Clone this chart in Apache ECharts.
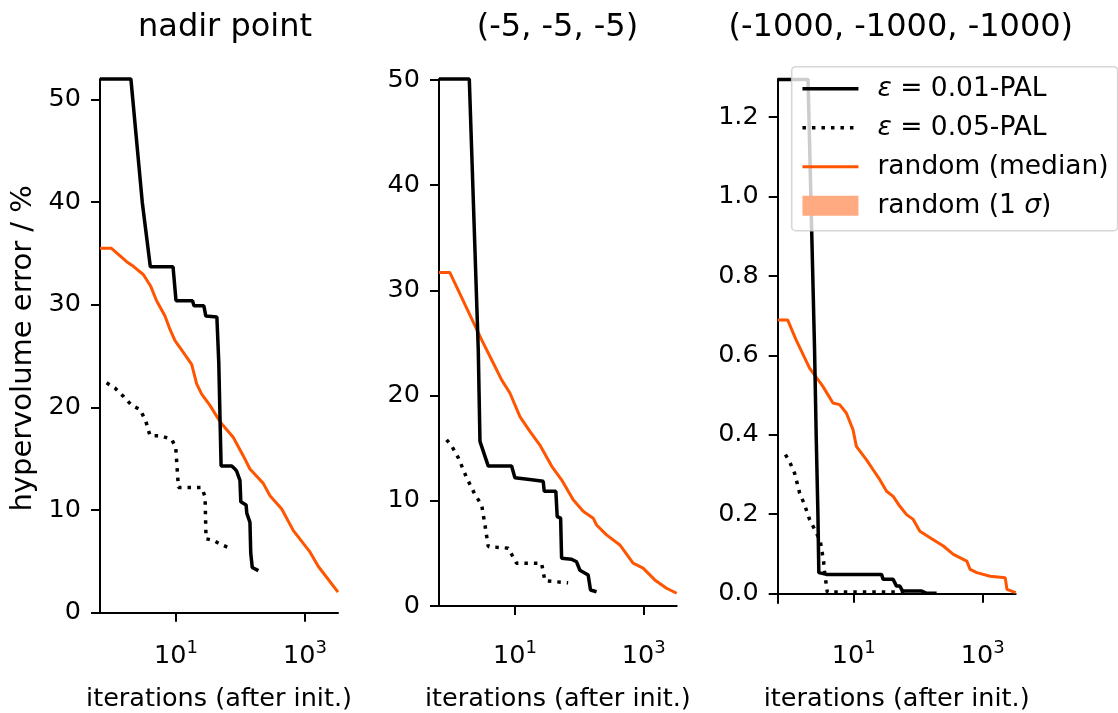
<!DOCTYPE html>
<html><head><meta charset="utf-8">
<script src="https://cdn.jsdelivr.net/npm/echarts@6/dist/echarts.min.js"></script>
<style>html,body{margin:0;padding:0;background:#fff}#c{width:1118px;height:713px}</style>
</head><body><div id="c"></div>
<script>
// ---- data (x = iterations after init., y = hypervolume error) ----
const panelTitles = ['nadir point', '(-5, -5, -5)', '(-1000, -1000, -1000)'];
const xTicks = [10, 1000];
const yTicksA = [0, 10, 20, 30, 40, 50];
const yTicksB = [0, 10, 20, 30, 40, 50];
const yTicksC = [0, 0.2, 0.4, 0.6, 0.8, 1.0, 1.2];
const xRange = [0.664, 3240];
const yRangeA = [0, 52.0];
const yRangeB = [0, 50.1];
const yRangeC = [-0.0235, 1.296];

const nadirPal01 = [[0.664,52.0],[2,52.0],[3,40],[4,33.7],[9,33.7],[10,30.4],[18,30.4],[19,29.9],[27,29.9],[29,28.9],[43,28.8],[45,28.8],[46,24.4],[49,24.4],[50,14.3],[73,14.3],[82,14.0],[87,13.8],[98,12.9],[101,10.8],[122,10.5],[125,9.7],[140,8.8],[144,5.8],[152,4.4],[189,4.1]];
const nadirPal05 = [[0.84,22.4],[1.13,21.9],[1.52,21.1],[2.06,20.2],[2.77,19.8],[3.39,18.7],[3.95,17.25],[5.65,17.25],[8.57,16.9],[9.9,16.1],[10.9,12.2],[25,12.2],[28.2,11.3],[29.2,7.2],[37.9,7.05],[48,6.7],[70.5,6.25],[73,6.1]];
const nadirRandom = [[0.664,35.5],[1.0,35.5],[1.72,34.2],[2.18,33.75],[3.11,32.95],[4.06,31.8],[5.0,30.4],[6.75,28.9],[8.07,27.6],[9.65,26.5],[12.2,25.6],[17.5,24.2],[20.9,22.3],[25,21.3],[33.6,20.2],[40.2,19.4],[51,18.4],[77,17.1],[110,15.3],[140,14.0],[225,12.6],[286,11.4],[435,10.1],[659,8.0],[1197,5.9],[1608,4.5],[3240,2.0]];

const m5Pal01 = [[0.664,50.1],[1.96,50.1],[2.7,24.4],[2.87,15.65],[3.86,13.3],[8.89,13.3],[10,12.2],[18.2,12.0],[27.5,11.85],[28.5,10.9],[43.2,10.9],[45.3,8.5],[51.2,8.35],[53,4.55],[75.7,4.45],[90.5,4.2],[102,3.4],[137,2.95],[149,1.52],[185,1.36]];
const m5Pal05 = [[0.87,15.8],[1.05,15.2],[1.32,14.1],[1.78,12.2],[2.4,10.6],[3.05,9.6],[3.43,7.7],[3.86,5.65],[7.87,5.5],[10.6,4.07],[25.9,4.07],[29.2,2.4],[67,2.2]];
const m5Random = [[0.664,31.7],[0.98,31.7],[3.05,25.3],[4.61,23.1],[6.22,21.5],[8.37,20.25],[11.96,18.0],[17.1,16.6],[24.4,15.3],[37.1,13.3],[53,12.0],[80.2,10.1],[114.6,9.0],[164,8.35],[185,7.7],[264,6.76],[425,5.8],[682,4.07],[975,3.6],[1482,2.48],[2250,1.69],[3240,1.21]];

const m1000Pal01 = [[0.664,1.295],[1.96,1.295],[2.47,0.62],[2.63,0.388],[2.79,0.20],[2.88,0.053],[3.76,0.0485],[27,0.0485],[28.6,0.036],[40.8,0.036],[46.1,0.019],[51.9,0.019],[57.2,0.0066],[113,0.0066],[135,0.001],[193,0.001]];
const m1000Pal05 = [[0.875,0.35],[1.01,0.333],[1.21,0.304],[1.45,0.254],[1.73,0.224],[2.07,0.187],[2.57,0.157],[3.04,0.132],[3.41,0.082],[3.54,0.053],[3.9,0.004],[70,0.004]];
const m1000Random = [[0.664,0.689],[0.95,0.689],[1.28,0.639],[2.07,0.568],[3.33,0.522],[4.77,0.48],[6.05,0.476],[7.69,0.455],[9.75,0.413],[11.0,0.371],[15.8,0.337],[20,0.312],[25.4,0.287],[32.3,0.258],[40.9,0.245],[51.9,0.22],[66,0.199],[83.6,0.187],[106,0.157],[171,0.136],[245,0.12],[350,0.099],[566,0.082],[637,0.061],[809,0.053],[1303,0.044],[2230,0.040],[2370,0.011],[3240,0.0025]];

const legendNames = ['ε = 0.01-PAL', 'ε = 0.05-PAL', 'random (median)', 'random (1 σ)'];

// ---- chart ----
const FONT = 'DejaVu Sans';
const ORANGE = '#ff5500';
const BAND = '#ffaa80';
const grids = [
  {left: 100, top: 79, width: 238, height: 533.7},
  {left: 439, top: 79, width: 237.7, height: 527},
  {left: 777.7, top: 79, width: 238, height: 524}
];
const xOffsets = [15.6, 22.3, 25.6];
const titleCenters = [220, 552.5, 895.8];
const yRanges = [yRangeA, yRangeB, yRangeC];
const yTicks = [yTicksA, yTicksB, yTicksC];
const panelData = [
  [nadirPal01, nadirPal05, nadirRandom],
  [m5Pal01, m5Pal05, m5Random],
  [m1000Pal01, m1000Pal05, m1000Random]
];

const xAxes = grids.map((g, i) => ({
  type: 'log', gridIndex: i, logBase: 10,
  min: xRange[0], max: xRange[1],
  offset: xOffsets[i],
  name: 'iterations (after init.)', nameLocation: 'middle', nameGap: 58,
  nameTextStyle: {fontFamily: FONT, fontSize: 25.5, color: '#000'},
  axisLine: {show: true, lineStyle: {color: '#000', width: 2}},
  axisTick: {show: true, length: 9, lineStyle: {color: '#000', width: 2}, customValues: xTicks},
  minorTick: {show: false},
  splitLine: {show: false},
  axisLabel: {
    customValues: xTicks, margin: 11,
    formatter: v => '{b|10}{s|' + Math.round(Math.log10(v)) + '}',
    rich: {
      b: {fontFamily: FONT, fontSize: 25.5, color: '#000', lineHeight: 30, verticalAlign: 'bottom'},
      s: {fontFamily: FONT, fontSize: 18, color: '#000', lineHeight: 18, verticalAlign: 'top'}
    }
  }
}));
const yAxes = grids.map((g, i) => ({
  type: 'value', gridIndex: i,
  min: yRanges[i][0], max: yRanges[i][1],
  name: i === 0 ? 'hypervolume error / %' : '',
  nameLocation: 'middle', nameRotate: 90, nameGap: 62,
  nameTextStyle: {fontFamily: FONT, fontSize: 29, color: '#000', padding: [0, 5, 0, 0]},
  axisLine: {show: true, lineStyle: {color: '#000', width: 2}},
  axisTick: {show: true, length: 9, lineStyle: {color: '#000', width: 2}, customValues: yTicks[i]},
  splitLine: {show: false},
  axisLabel: {
    customValues: yTicks[i], margin: 19,
    fontFamily: FONT, fontSize: 25.5, color: '#000',
    formatter: v => i === 2 ? Number(v).toFixed(1) : String(Math.round(v))
  }
}));

const series = [];
panelData.forEach((arr, i) => {
  series.push({
    name: legendNames[0], type: 'line', xAxisIndex: i, yAxisIndex: i,
    data: arr[0], showSymbol: false, symbol: 'none', clip: false, z: 3,
    color: '#000', lineStyle: {color: '#000', width: 3.5}
  });
  series.push({
    name: legendNames[1], type: 'line', xAxisIndex: i, yAxisIndex: i,
    data: arr[1], showSymbol: false, symbol: 'none', clip: false, z: 3,
    color: '#000', lineStyle: {color: '#000', width: 3.5, type: [3.5, 6], cap: 'butt'}
  });
  series.push({
    name: legendNames[2], type: 'line', xAxisIndex: i, yAxisIndex: i,
    data: arr[2], showSymbol: false, symbol: 'none', clip: false, z: 2,
    color: ORANGE, lineStyle: {color: ORANGE, width: 3}
  });
});
series.push({
  name: legendNames[3], type: 'line', xAxisIndex: 2, yAxisIndex: 2,
  data: [], showSymbol: false, symbol: 'none', color: BAND,
  itemStyle: {color: BAND}, lineStyle: {color: BAND}
});

const option = {
  animation: false,
  backgroundColor: '#fff',
  title: panelTitles.map((t, i) => ({
    text: t, left: titleCenters[i], top: 7, textAlign: 'center',
    textStyle: {fontFamily: FONT, fontSize: 32, fontWeight: 'normal', color: '#000'}
  })),
  grid: grids.map(g => Object.assign({containLabel: false, outerBoundsMode: 'none'}, g)),
  xAxis: xAxes,
  yAxis: yAxes,
  legend: {
    orient: 'vertical', left: 791.7, top: 66.7,
    padding: [7, 9, 10, 9],
    itemWidth: 56, itemHeight: 20, itemGap: 9,
    backgroundColor: 'rgba(255,255,255,0.8)',
    borderColor: 'rgba(204,204,204,0.8)', borderWidth: 1.6, borderRadius: 4,
    itemStyle: {opacity: 0},
    lineStyle: {width: 'inherit'},
    data: [
      {name: legendNames[0]},
      {name: legendNames[1]},
      {name: legendNames[2]},
      {name: legendNames[3], icon: 'rect', itemStyle: {color: BAND, opacity: 1}}
    ],
    selectedMode: false,
    formatter: n => {
      if (n.indexOf('ε') === 0) return '{i|ε}' + n.slice(1);
      if (n.indexOf('σ') >= 0) return n.replace('σ', '{i|σ}');
      return n;
    },
    textStyle: {
      fontFamily: FONT, fontSize: 26.5, color: '#000', lineHeight: 30, padding: [0, 0, 0, 14],
      rich: {i: {fontFamily: FONT, fontSize: 26.5, fontStyle: 'italic', color: '#000', lineHeight: 30}}
    }
  },
  series: series
};

const chart = echarts.init(document.getElementById('c'), null, {renderer: 'canvas'});
chart.setOption(option);
</script></body></html>
